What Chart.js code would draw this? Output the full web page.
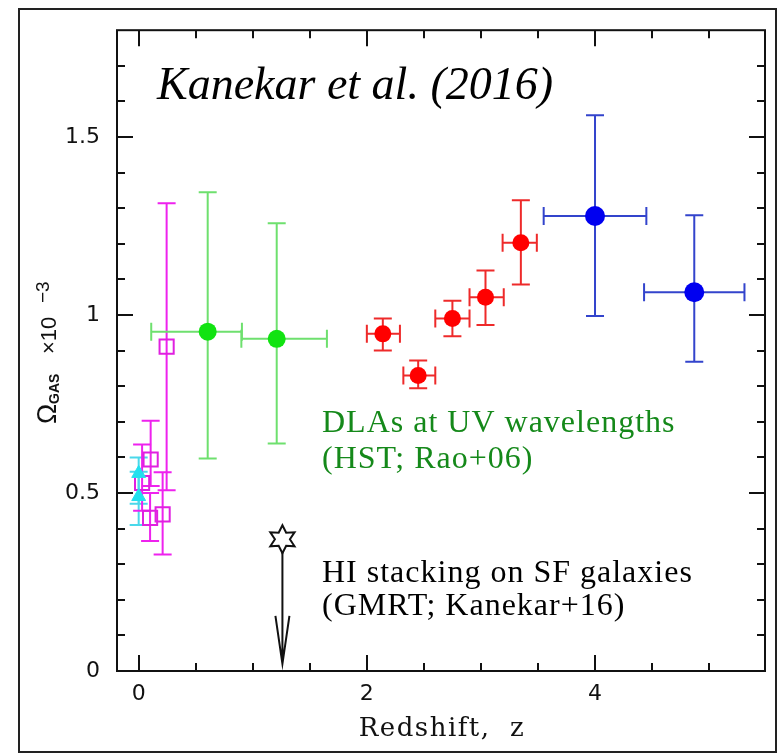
<!DOCTYPE html>
<html>
<head>
<meta charset="utf-8">
<script src="https://cdn.jsdelivr.net/npm/chart.js@4.4.0/dist/chart.umd.min.js"></script>
<style>
  html, body { margin: 0; padding: 0; background: #fff; }
  #wrap { position: relative; width: 778px; height: 754px; }
</style>
</head>
<body>
<div id="wrap"><canvas id="chart" width="778" height="754"></canvas></div>
<script>
(function () {
    // axis ticks
    var xTicks = [0, 2, 4];
    var yTicks = [0, 0.5, 1, 1.5];

    // 21-cm / low-z points, magenta open squares
    var hiZ = [0.03, 0.105, 0.10, 0.21, 0.245];
    var hiOmega = [0.528, 0.594, 0.43, 0.44, 0.911];
    var hiLo = [0.45, 0.52, 0.365, 0.327, 0.508];
    var hiHi = [0.636, 0.703, 0.50, 0.558, 1.314];

    // local surveys, cyan triangles
    var localZ = [0.0, 0.0];
    var localOmega = [0.555, 0.49];
    var localLo = [0.47, 0.41];
    var localHi = [0.60, 0.56];

    // DLAs at UV wavelengths (HST; Rao+06), green
    var uvZ = [0.605, 1.21];
    var uvZlo = [0.11, 0.90];
    var uvZhi = [0.905, 1.65];
    var uvOmega = [0.953, 0.933];
    var uvLo = [0.597, 0.639];
    var uvHi = [1.345, 1.258];

    // SDSS DLAs, red
    var sdssZ = [2.14, 2.45, 2.75, 3.04, 3.35];
    var sdssZlo = [2.0, 2.32, 2.6, 2.9, 3.19];
    var sdssZhi = [2.29, 2.6, 2.9, 3.2, 3.49];
    var sdssOmega = [0.947, 0.83, 0.99, 1.05, 1.203];
    var sdssLo = [0.90, 0.794, 0.94, 0.972, 1.086];
    var sdssHi = [0.99, 0.872, 1.04, 1.125, 1.322];

    // high-z DLAs, blue
    var hzZ = [4.0, 4.87];
    var hzZlo = [3.55, 4.43];
    var hzZhi = [4.45, 5.31];
    var hzOmega = [1.278, 1.064];
    var hzLo = [0.997, 0.869];
    var hzHi = [1.561, 1.28];

    // HI stacking upper limit (GMRT; Kanekar+16)
    var stackZ = 1.26;
    var stackOmega = 0.37;
    var stackArrowTo = 0.02;

    var points = (xs, ys) => xs.map((x, i) => ({ x: x, y: ys[i] }));

    var makeSet = (xs, ys, opts) => Object.assign({
        data: points(xs, ys),
        showLine: false,
        borderWidth: 0
    }, opts);

    var datasets = [
        makeSet(localZ, localOmega, {
            pointStyle: 'triangle', pointRadius: 8, backgroundColor: '#22e0ee', borderColor: '#22e0ee', borderWidth: 1,
            errColor: '#4ad8ea', yLo: localLo, yHi: localHi
        }),
        makeSet(hiZ, hiOmega, {
            pointStyle: 'rect', pointRadius: 10, backgroundColor: 'rgba(0,0,0,0)', borderColor: '#e020e0', borderWidth: 2,
            errColor: '#ee22ee', yLo: hiLo, yHi: hiHi
        }),
        makeSet(uvZ, uvOmega, {
            pointStyle: 'circle', pointRadius: 9, backgroundColor: '#11e311', borderColor: '#11e311',
            errColor: '#6ee06e', xLo: uvZlo, xHi: uvZhi, yLo: uvLo, yHi: uvHi
        }),
        makeSet(sdssZ, sdssOmega, {
            pointStyle: 'circle', pointRadius: 8.5, backgroundColor: '#ff0000', borderColor: '#ff0000',
            errColor: '#ee2a2a', xLo: sdssZlo, xHi: sdssZhi, yLo: sdssLo, yHi: sdssHi
        }),
        makeSet(hzZ, hzOmega, {
            pointStyle: 'circle', pointRadius: 10, backgroundColor: '#0000f0', borderColor: '#0000f0',
            errColor: '#3344cc', xLo: hzZlo, xHi: hzZhi, yLo: hzLo, yHi: hzHi
        })
    ];

    var cap = 9;

    // error bars under the markers
    var errorBars = {
        id: 'errorBars',
        beforeDatasetsDraw: (chart) => {
            var ctx = chart.ctx, xs = chart.scales.x, ys = chart.scales.y;
            ctx.save();
            chart.data.datasets.forEach(ds => {
                ctx.strokeStyle = ds.errColor;
                ctx.lineWidth = 2;
                ds.data.forEach((p, i) => {
                    var px = xs.getPixelForValue(p.x), py = ys.getPixelForValue(p.y);
                    ctx.beginPath();
                    if (ds.yLo) {
                        var top = ys.getPixelForValue(ds.yHi[i]), bot = ys.getPixelForValue(ds.yLo[i]);
                        ctx.moveTo(px, top); ctx.lineTo(px, bot);
                        ctx.moveTo(px - cap, top); ctx.lineTo(px + cap, top);
                        ctx.moveTo(px - cap, bot); ctx.lineTo(px + cap, bot);
                    }
                    if (ds.xLo) {
                        var l = xs.getPixelForValue(ds.xLo[i]), r = xs.getPixelForValue(ds.xHi[i]);
                        ctx.moveTo(l, py); ctx.lineTo(r, py);
                        ctx.moveTo(l, py - cap); ctx.lineTo(l, py + cap);
                        ctx.moveTo(r, py - cap); ctx.lineTo(r, py + cap);
                    }
                    ctx.stroke();
                });
            });
            ctx.restore();
        }
    };

    // star with downward arrow, inward ticks, box, labels and frame
    var decorations = {
        id: 'decorations',
        afterDatasetsDraw: (chart) => {
            var ctx = chart.ctx, xs = chart.scales.x, ys = chart.scales.y, a = chart.chartArea;
            ctx.save();

            var sx = xs.getPixelForValue(stackZ), sy = ys.getPixelForValue(stackOmega);
            var ty = ys.getPixelForValue(stackArrowTo);
            ctx.strokeStyle = '#111';
            ctx.lineWidth = 2;
            ctx.beginPath();
            ctx.moveTo(sx, sy); ctx.lineTo(sx, ty);
            ctx.moveTo(sx - 7, ty - 48); ctx.lineTo(sx, ty); ctx.lineTo(sx + 7, ty - 48);
            ctx.stroke();

            ctx.beginPath();
            for (var k = 0; k < 12; k++) {
                var ang = -Math.PI / 2 + k * Math.PI / 6;
                var rad = k % 2 === 0 ? 14 : 7.5;
                var qx = sx + rad * Math.cos(ang), qy = sy + rad * Math.sin(ang);
                if (k === 0) ctx.moveTo(qx, qy); else ctx.lineTo(qx, qy);
            }
            ctx.closePath();
            ctx.fillStyle = '#fff';
            ctx.fill();
            ctx.lineWidth = 2;
            ctx.stroke();

            // inward ticks on all four sides
            ctx.strokeStyle = '#111';
            ctx.lineWidth = 2;
            ctx.beginPath();
            for (var zx = 0; zx <= 5.001; zx += 0.5) {
                var px = Math.round(xs.getPixelForValue(zx));
                var len = Math.abs(zx % 2) < 0.001 ? 16 : 8;
                ctx.moveTo(px, a.bottom); ctx.lineTo(px, a.bottom - len);
                ctx.moveTo(px, a.top); ctx.lineTo(px, a.top + len);
            }
            for (var j = 1; j <= 17; j++) {
                var v = j / 10;
                var py = Math.round(ys.getPixelForValue(v));
                var ylen = j % 5 === 0 ? 16 : 8;
                ctx.moveTo(a.left, py); ctx.lineTo(a.left + ylen, py);
                ctx.moveTo(a.right, py); ctx.lineTo(a.right - ylen, py);
            }
            ctx.stroke();
            ctx.strokeRect(a.left, a.top, a.right - a.left, a.bottom - a.top);
            ctx.restore();
        },
        afterDraw: (chart) => {
            var ctx = chart.ctx;
            ctx.save();
            ctx.textBaseline = 'alphabetic';

            ctx.fillStyle = '#000';
            ctx.font = 'italic 46px "Liberation Serif"';
            ctx.fillText('Kanekar et al. (2016)', 157, 99);

            ctx.font = '32px "Liberation Serif"';
            ctx.letterSpacing = '1px';
            ctx.fillStyle = '#15891a';
            ctx.fillText('DLAs at UV wavelengths', 322, 432);
            ctx.fillText('(HST; Rao+06)', 322, 468);

            ctx.fillStyle = '#000';
            ctx.fillText('HI stacking on SF galaxies', 322, 582);
            ctx.fillText('(GMRT; Kanekar+16)', 322, 615);

            // x axis title
            ctx.fillStyle = '#111';
            ctx.font = '26px "DejaVu Serif"';
            ctx.letterSpacing = '1.5px';
            ctx.textAlign = 'center';
            ctx.fillText('Redshift,  z', 442, 736);
            ctx.restore();

            // y axis title, rotated
            ctx.save();
            ctx.fillStyle = '#111';
            ctx.textBaseline = 'alphabetic';
            ctx.textAlign = 'left';
            ctx.translate(56, 424);
            ctx.rotate(-Math.PI / 2);
            ctx.font = '27px "Liberation Sans"';
            ctx.fillText('\u03A9', 0, 0);
            ctx.font = 'bold 14px "Liberation Sans"';
            ctx.fillText('GAS', 20, 3);
            ctx.font = '22px "Liberation Sans"';
            ctx.fillText('\u00D710', 70, 0);
            ctx.font = '19px "Liberation Sans"';
            ctx.fillText('\u22123', 121, -7);
            ctx.restore();

            // outer frame
            ctx.save();
            ctx.strokeStyle = '#222';
            ctx.lineWidth = 2;
            ctx.strokeRect(19, 9, 757, 743);
            ctx.restore();
        }
    };

    var ctx = document.getElementById('chart').getContext('2d');
    new Chart(ctx, {
        type: 'scatter',
        data: { datasets: datasets },
        plugins: [errorBars, decorations],
        options: {
            responsive: false,
            animation: false,
            devicePixelRatio: 1,
            layout: { padding: { top: 22, right: 13, left: 0, bottom: 0 } },
            plugins: { legend: { display: false }, tooltip: { enabled: false } },
            scales: {
                x: {
                    type: 'linear', min: -0.19, max: 5.49,
                    grid: { display: false, drawTicks: false },
                    border: { display: false },
                    ticks: { padding: 10, color: '#111', maxRotation: 0, font: { family: 'DejaVu Sans', size: 22 },
                        callback: v => String(v) },
                    afterBuildTicks: s => { s.ticks = xTicks.map(v => ({ value: v })); },
                    afterFit: s => { s.height = 83; }
                },
                y: {
                    type: 'linear', min: 0, max: 1.8,
                    grid: { display: false, drawTicks: false },
                    border: { display: false },
                    ticks: { padding: 17, color: '#111', font: { family: 'DejaVu Sans', size: 22 },
                        callback: v => String(v) },
                    afterBuildTicks: s => { s.ticks = yTicks.map(v => ({ value: v })); },
                    afterFit: s => { s.width = 117; }
                }
            }
        }
    });
})();
</script>
</body>
</html>
